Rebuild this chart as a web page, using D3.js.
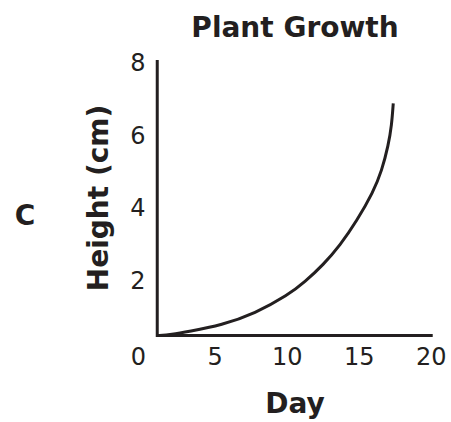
<!DOCTYPE html>
<html>
<head>
<meta charset="utf-8">
<script src="https://cdn.jsdelivr.net/npm/d3@7"></script>
<style>
  html, body { margin: 0; padding: 0; background: #fff; }
  svg { display: block; }
  text { fill: #231f20; }
</style>
</head>
<body>
<svg id="chart" width="451" height="422"></svg>
<script>
// ---- data ----
const days    = [1.0, 2.0, 3.17, 5.49, 7.80, 10.11, 11.27, 12.54, 13.70, 14.86, 16.01, 16.60, 17.06, 17.29, 17.40];
const heights = [0.47, 0.50, 0.58, 0.76, 1.08, 1.59, 1.95, 2.42, 2.95, 3.62, 4.42, 5.0, 5.71, 6.26, 6.86];
const xTicks = [0, 5, 10, 15, 20];
const yTicks = [2, 4, 6, 8];
const title = "Plant Growth";
const xLabel = "Day";
const yLabel = "Height (cm)";
const panelLabel = "C";

// ---- layout ----
const ink = "#231f20";
const svg = d3.select("#chart");
const x = d3.scaleLinear().domain([0, 20]).range([142.7, 430.7]);
const y = d3.scaleLinear().domain([0, 8]).range([352.7, 61.9]);

// axis extents (axes meet at the start of the curve)
const xMin = 1.01, xMax = 20.14, yMin = 0.47, yMax = 8.05;

// axis lines
svg.append("path")
  .attr("d", d3.line()([[x(xMin), y(yMax)], [x(xMin), y(yMin)], [x(xMax), y(yMin)]]))
  .attr("fill", "none").attr("stroke", ink).attr("stroke-width", 3)
  .attr("stroke-linejoin", "miter");

// x tick labels
const gx = svg.append("g")
  .attr("transform", `translate(0,${y(0)})`)
  .call(d3.axisBottom(x).tickValues(xTicks).tickSize(0).tickPadding(0).tickFormat(d3.format("d")));
gx.select(".domain").remove();
gx.selectAll("text")
  .attr("font-family", "'DejaVu Sans', Verdana, sans-serif")
  .attr("font-size", 24)
  .attr("fill", ink)
  .attr("y", 12.3).attr("dy", null)
  .attr("dx", d => d === 0 ? -4.7 : 0);

// y tick labels
const gy = svg.append("g")
  .attr("transform", `translate(138,0)`)
  .call(d3.axisLeft(y).tickValues(yTicks).tickSize(0).tickPadding(0).tickFormat(d3.format("d")));
gy.select(".domain").remove();
gy.selectAll("text")
  .attr("font-family", "'DejaVu Sans', Verdana, sans-serif")
  .attr("font-size", 24)
  .attr("fill", ink)
  .attr("text-anchor", "middle")
  .attr("x", 0).attr("dy", "0.36em");

// curve
const pts = days.map((d, i) => [d, heights[i]]);
svg.append("path")
  .attr("fill", "none").attr("stroke", ink).attr("stroke-width", 3)
  .attr("d", d3.line().x(d => x(d[0])).y(d => y(d[1])).curve(d3.curveBasis)(pts));

// labels
const bold = { "font-family": "'DejaVu Sans', Verdana, sans-serif", "font-weight": "bold", "font-size": 28 };
function label(txt, tx, ty, rot) {
  const t = svg.append("text").text(txt).attr("text-anchor", "middle")
    .attr("transform", `translate(${tx},${ty})` + (rot ? ` rotate(${rot})` : ""));
  Object.entries(bold).forEach(([k, v]) => t.attr(k, v));
  return t;
}
label(title, 295, 36.7);
label(xLabel, 295, 412.7);
label(yLabel, 108, 198, -90);
label(panelLabel, 25, 225);
</script>
</body>
</html>
